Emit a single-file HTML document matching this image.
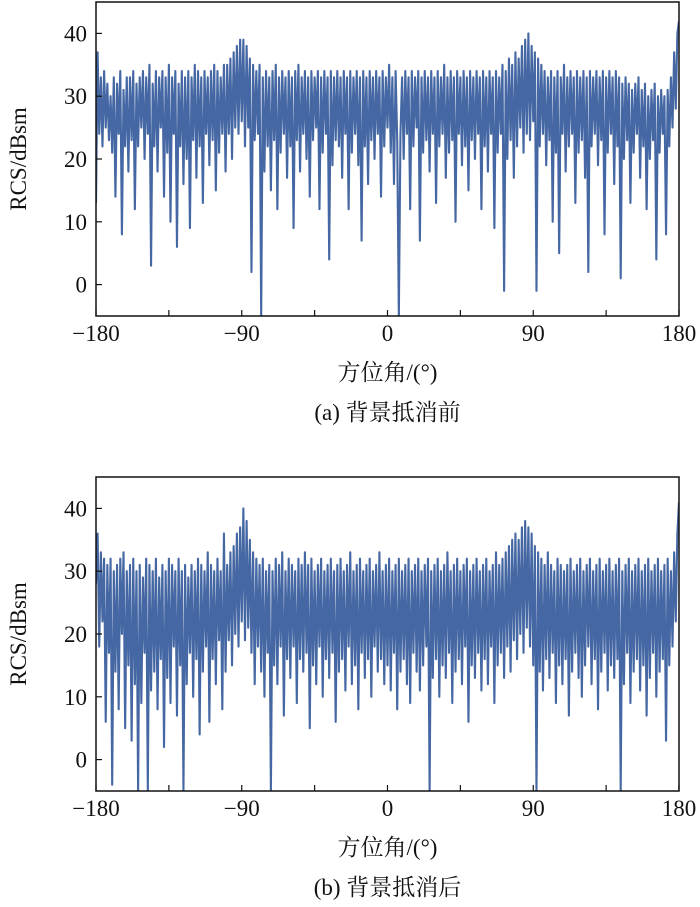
<!DOCTYPE html>
<html><head><meta charset="utf-8">
<style>
html,body{margin:0;padding:0;background:#fff;}
svg{display:block;}
text{font-family:"Liberation Serif","Noto Serif CJK SC",serif;fill:#111;}
</style></head>
<body>
<svg id="fig" width="700" height="907" viewBox="0 0 700 907" xmlns="http://www.w3.org/2000/svg"></svg>
<script>
const xTicks=[-180,-135,-90,-45,0,45,90,135,180];
const xTickLabels=["−180","","−90","","0","","90","","180"];
const yTicks=[0,10,20,30,40];
const yTickLabels=["0","10","20","30","40"];
const seriesBefore=[
13,37,24,33,22,34,25,32,23,30, 21,33,14,32,24,34,8,31,22,33, 18,33,23,34,12,32,22,33,25,34,
20,33,24,35,3,32,22,34,18,33, 25,34,14,33,21,35,10,33,24,34, 6,32,22,34,16,33,20,34,9,33,
23,35,17,34,22,33,13,34,24,33, 19,34,23,35,15,34,21,33,24,35, 18,35,24,36,20,37,25,38,24,39,
26,39,22,38,25,36,2,35,23,34, 24,35,-5,33,18,34,22,33,15,34, 23,35,12,33,21,34,24,33,17,34,
22,33,9,34,23,35,18,33,24,34, 20,33,14,34,23,33,25,34,12,33, 21,34,24,33,4,34,19,33,23,34,
22,33,17,34,24,33,12,34,21,33, 24,34,19,33,7,34,22,33,16,34, 23,33,20,34,24,33,14,34,22,33,
25,35,21,33,16,34,23,-5,24,33, 20,34,24,33,12,34,22,33,25,34, 7,33,21,34,23,33,18,34,24,33,
13,34,22,33,24,35,17,33,21,34, 23,33,10,34,24,33,19,34,22,33, 15,34,23,33,20,34,24,33,12,34,
22,33,18,34,24,33,9,34,21,33, 24,35,-1,34,20,36,23,35,17,37, 22,36,25,38,21,39,24,40,23,38,
26,37,-1,36,22,35,24,34,19,33, 23,34,10,33,21,34,5,33,24,35, 18,33,22,34,24,33,13,34,21,33,
23,34,17,33,2,34,22,33,24,34, 19,33,23,34,8,33,21,34,24,33, 16,34,22,33,1,32,20,33,23,32,
13,31,21,32,24,33,17,31,22,32, 12,30,20,31,23,32,4,30,21,31, 24,30,8,31,22,33,25,37,28,40, 42];
const seriesAfter=[
28,36,18,33,22,32,6,31,17,32, -4,30,14,31,8,32,20,33,5,30, 15,31,3,32,12,30,-5,31,9,29,
17,32,-5,31,11,30,14,32,8,29, 16,31,2,30,13,32,9,31,18,30, 7,32,15,30,-5,31,12,29,17,31,
10,30,16,32,4,31,14,30,18,33, 6,31,16,30,12,32,19,30,8,36, 14,31,19,33,15,34,20,36,18,37,
22,40,19,38,21,35,17,33,12,32, 18,31,14,32,10,30,17,31,-5,30, 15,32,12,31,18,33,7,30,16,32,
13,31,18,30,9,32,16,31,14,33, 17,31,5,32,15,30,12,31,18,32, 10,30,16,31,13,32,17,30,6,31,
14,32,16,30,11,31,18,33,12,30, 15,31,8,32,17,30,13,31,16,32, 10,30,18,31,14,33,16,30,12,31,
15,32,11,30,17,31,8,32,14,30, 16,31,12,32,9,30,17,31,14,32, 11,30,15,31,18,32,-5,30,13,31,
16,32,10,30,15,31,13,33,17,30, 9,31,14,32,16,30,12,31,18,32, 6,30,15,31,13,32,17,30,11,31,
16,32,12,30,18,31,9,33,15,31, 17,32,13,33,18,34,14,35,19,36, 16,35,20,37,17,38,21,37,18,36,
15,34,-5,33,14,32,11,31,16,33, 13,31,17,30,9,32,15,31,12,30, 16,31,7,32,14,30,17,31,13,32,
10,30,15,31,18,32,12,30,16,31, 8,32,14,30,17,31,11,32,15,30, 13,31,16,32,-5,30,12,31,17,32,
9,30,14,31,16,32,11,30,15,31, 7,32,13,30,17,31,10,32,14,30, 16,31,3,32,15,30,18,33,22,36, 41];

const NS="http://www.w3.org/2000/svg";
const svg=document.getElementById('fig');
function mk(tag,attrs,parent){const e=document.createElementNS(NS,tag);for(const k in attrs)e.setAttribute(k,attrs[k]);(parent||svg).appendChild(e);return e;}

function panel(top,series,caption,id){
  const L=96,R=679,T=top,B=top+314;
  const xs=v=>L+(v+180)/360*(R-L);
  const ys=v=>B-(v+5)/50*(B-T);
  const g=mk('g',{});
  
  
  const cp=mk('clipPath',{id:'clip'+id},g);
  mk('rect',{x:L,y:T,width:R-L,height:B-T},cp);
  let d='';
  series.forEach((v,i)=>{const x=xs(-180+i*360/(series.length-1));d+=(i?'L':'M')+x.toFixed(2)+' '+ys(v).toFixed(2);});
  const p=mk('path',{d:d,fill:'none',stroke:'#4567a3','stroke-width':2.1,'stroke-linejoin':'round','clip-path':'url(#clip'+id+')'},g);
  
  
  const fr=mk('rect',{x:L,y:T,width:R-L,height:B-T,fill:'none',stroke:'#111','stroke-width':1.5},g);
  
  
  xTicks.forEach((t,i)=>{
    const x=xs(t);
    mk('line',{x1:x,y1:B,x2:x,y2:B-6,stroke:'#111','stroke-width':1.2},g);
    if(xTickLabels[i]){const tx=mk('text',{x:x,y:B+25,'text-anchor':'middle','font-size':23},g);tx.textContent=xTickLabels[i];
      
      }
  });
  yTicks.forEach((t,i)=>{
    const y=ys(t);
    mk('line',{x1:L,y1:y,x2:L+6,y2:y,stroke:'#111','stroke-width':1.2},g);
    const ty=mk('text',{x:L-9,y:y+8,'text-anchor':'end','font-size':23},g);ty.textContent=yTickLabels[i];
    
    
  });
  const yt=mk('text',{x:0,y:0,'text-anchor':'middle','font-size':23,transform:'translate(26,'+((T+B)/2)+') rotate(-90)'},g);
  yt.textContent='RCS/dBsm';
  
  
  const xt=mk('text',{x:(L+R)/2,y:B+64,'text-anchor':'middle','font-size':23},g);
  xt.textContent='方位角/(°)';
  
  
  const ct=mk('text',{x:(L+R)/2,y:B+104,'text-anchor':'middle','font-size':23},g);
  ct.textContent=caption;
  
  
}
panel(2,seriesBefore,'(a) 背景抵消前','before');
panel(477,seriesAfter,'(b) 背景抵消后','after');
</script>
</body></html>
